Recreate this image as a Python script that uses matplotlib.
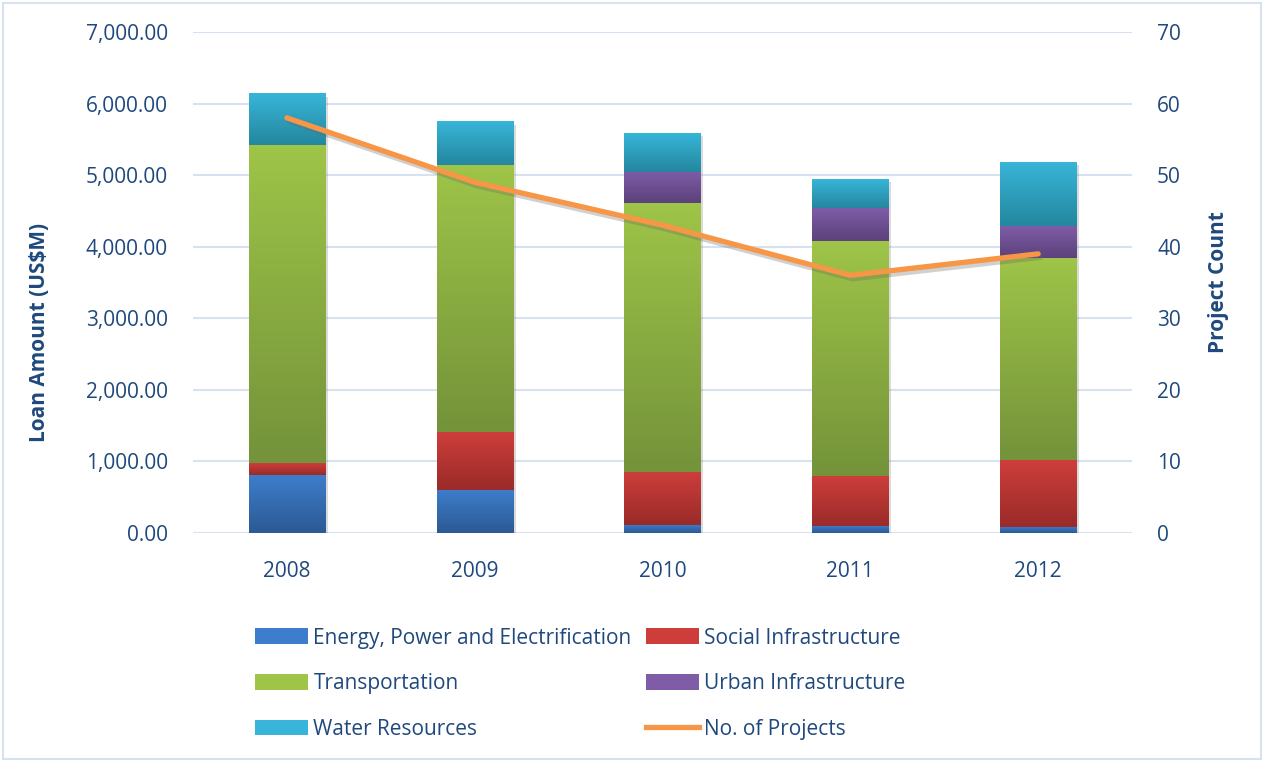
import matplotlib.pyplot as plt
import matplotlib.patheffects as pe
from matplotlib.colors import LinearSegmentedColormap
from matplotlib.patches import Rectangle
from matplotlib.lines import Line2D
import numpy as np

plt.rcParams['font.family'] = ['Open Sans', 'DejaVu Sans']

years = ['2008', '2009', '2010', '2011', '2012']
energy = [810, 601, 112, 98, 88]
social = [165, 810, 745, 698, 932]
transport = [4445, 3731, 3754, 3284, 2827]
urban = [0, 0, 437, 461, 443]
water = [713, 601, 541, 405, 894]
projects = [58, 49, 43, 36, 39]

sectors = ['Energy, Power and Electrification', 'Social Infrastructure',
           'Transportation', 'Urban Infrastructure', 'Water Resources']
values = [energy, social, transport, urban, water]
# (top colour, bottom colour) for each stacked segment
shades = [('#3E7DCB', '#2B5A94'), ('#CD3E3B', '#9A2B29'), ('#9EC448', '#74933A'),
          ('#7E5CA7', '#5C427B'), ('#38B5D8', '#24879F')]

text_col = '#1F497D'
grid_col = '#D6E1F1'
fs = 15

fig = plt.figure(figsize=(12.64, 7.61), dpi=100)
ax = fig.add_axes([0.1527, 0.2996, 0.7429, 0.6584])
ax2 = ax.twinx()

x = np.arange(len(years))
width = 0.405
grad = np.linspace(1, 0, 64).reshape(-1, 1)

bottom = np.zeros(len(years))
for vals, (top_c, bot_c) in zip(values, shades):
    cmap = LinearSegmentedColormap.from_list('seg', [bot_c, top_c])
    for i, v in enumerate(vals):
        if v <= 0:
            continue
        ax.imshow(grad, cmap=cmap, aspect='auto', zorder=3,
                  extent=[x[i] - width / 2, x[i] + width / 2, bottom[i], bottom[i] + v],
                  vmin=0, vmax=1, interpolation='bilinear')
    bottom += np.array(vals)

# soft drop shadow behind each whole stack
for i, total in enumerate(bottom):
    ax.add_patch(Rectangle((x[i] - width / 2, 0), width, total, facecolor='none',
                           edgecolor='none', zorder=2.5,
                           path_effects=[pe.SimplePatchShadow(offset=(2, -2), shadow_rgbFace='#888888', alpha=0.3)]))

ax.set_xlim(-0.5, len(years) - 0.5)
ax.set_ylim(0, 7000)
ax.set_yticks(np.arange(0, 7001, 1000))
ax.set_yticklabels([f'{v:,.2f}' for v in np.arange(0, 7001, 1000)])
ax.set_xticks(x)
ax.set_xticklabels(years)
ax.grid(axis='y', color=grid_col, linewidth=1.5, zorder=0)
ax.set_axisbelow(True)

ax2.plot(x, projects, color='#F79646', linewidth=3.8, solid_capstyle='round', zorder=5,
         path_effects=[pe.SimpleLineShadow(offset=(1.5, -2.5), shadow_color='#666666', alpha=0.3),
                       pe.Normal()])
ax2.set_ylim(0, 70)
ax2.set_yticks(np.arange(0, 71, 10))

for a in (ax, ax2):
    for s in a.spines.values():
        s.set_visible(False)
    a.tick_params(length=0, labelsize=fs, colors=text_col)
ax.tick_params(axis='y', pad=18)
ax.tick_params(axis='x', pad=20)
ax2.tick_params(axis='y', pad=18)

ax.set_ylabel('Loan Amount (US$M)', fontsize=fs, fontweight='bold', color=text_col)
ax.yaxis.set_label_coords(-0.152, 0.40)
ax2.set_ylabel('Project Count', fontsize=fs, fontweight='bold', color=text_col)
ax2.yaxis.set_label_coords(1.081, 0.5)

handles = [Rectangle((0, 0), 1, 1, facecolor=c[0], edgecolor='none') for c in shades]
handles.append(Line2D([0], [0], color='#F79646', linewidth=3.8))
labels = sectors + ['No. of Projects']
order = [0, 2, 4, 1, 3, 5]
fig.legend([handles[i] for i in order], [labels[i] for i in order], ncol=2,
           loc='upper left', bbox_to_anchor=(0.187, 0.2), frameon=False,
           fontsize=fs, labelcolor=text_col, handlelength=2.55, handleheight=0.8,
           handletextpad=0.25, columnspacing=0.67, labelspacing=1.18)

fig.patches.append(Rectangle((0.002, 0.002), 0.996, 0.994, transform=fig.transFigure,
                             facecolor='none', edgecolor=grid_col, linewidth=1.5))

fig.savefig('out.png', dpi=100)
